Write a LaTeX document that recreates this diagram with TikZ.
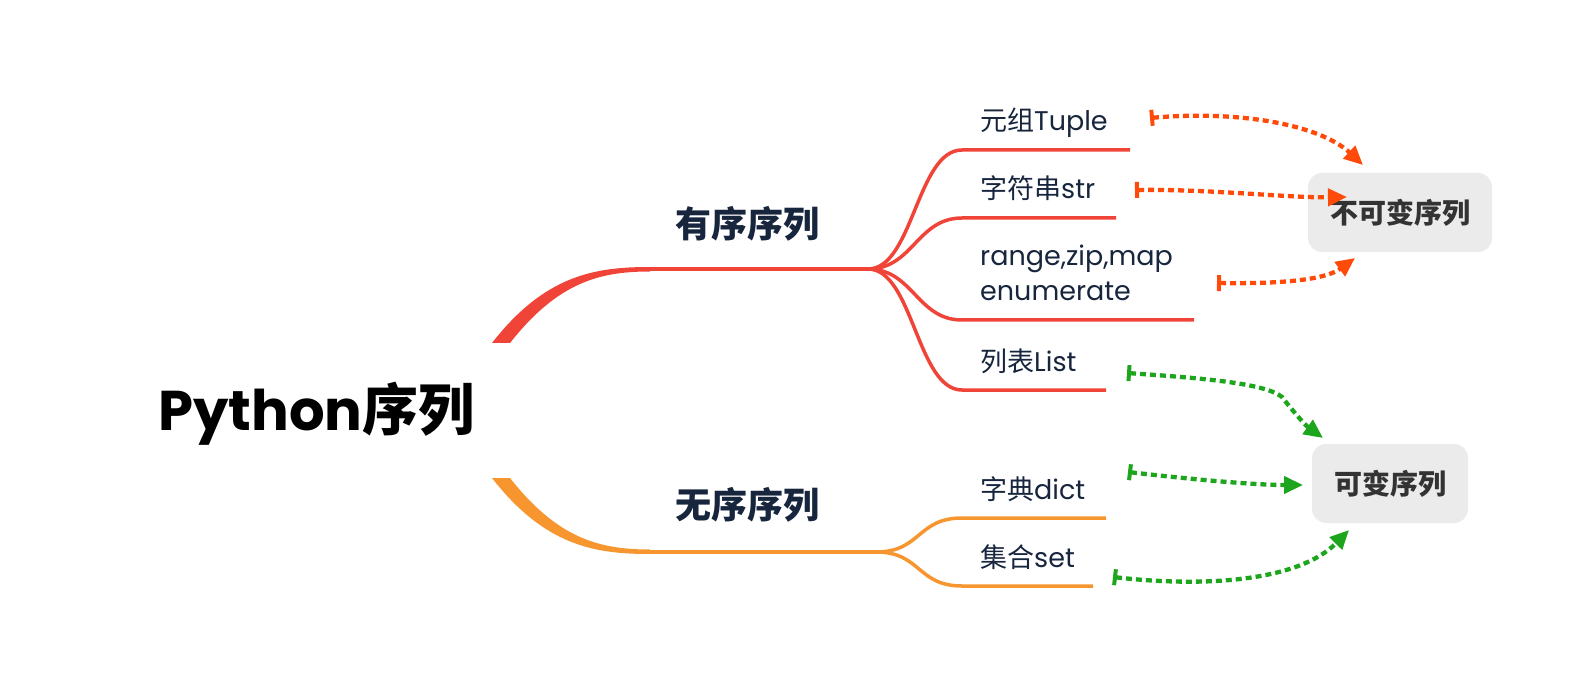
\documentclass[tikz,border=0pt]{standalone}
\usepackage{fontspec}
\setmainfont{Poppins}
\newfontfamily\cjk{Noto Sans CJK SC}
\usetikzlibrary{arrows.meta}
\definecolor{redb}{HTML}{F04438}
\definecolor{orab}{HTML}{F7952F}
\definecolor{navy}{HTML}{17253D}
\definecolor{arrred}{HTML}{FF4A0A}
\definecolor{arrgreen}{HTML}{1DA61D}
\definecolor{boxfill}{HTML}{EBEBEB}
\definecolor{boxtext}{HTML}{333333}
\tikzset{
  leaf/.style={anchor=base west, inner sep=0pt, text=navy, font=\fontsize{27}{31}\selectfont},
  midlabel/.style={inner sep=0pt, text=navy, font=\fontsize{36}{40}\selectfont\bfseries\cjk},
  seqbox/.style={fill=boxfill, rounded corners=14pt, minimum height=79pt, inner sep=0pt,
    text=boxtext, font=\fontsize{28}{32}\selectfont\bfseries\cjk},
  redsub/.style={draw=redb, line width=3.5pt},
  orasub/.style={draw=orab, line width=3.5pt},
  link/.style={line width=4.3pt, dash pattern=on 6pt off 4pt,
    {Bar[width=16pt,line width=4pt]}-{Triangle[length=19pt,width=17pt]}},
  redlink/.style={link, draw=arrred, arrred},
  greenlink/.style={link, draw=arrgreen, arrgreen}
}
\begin{document}
\begin{tikzpicture}[x=1pt,y=-1pt]
\useasboundingbox (0,0) rectangle (1592,700);

% root and level-1 nodes
\node[anchor=base west, inner sep=0pt, text=black, font=\fontsize{56}{60}\selectfont\bfseries]
  (root) at (158,430) {Python{\cjk 序列}};
\node[midlabel] (ordered) at (747,224) {有序序列};
\node[midlabel] (unordered) at (747,505) {无序序列};

% leaves
\node[leaf] (tuple) at (980,131) {{\cjk 元组}Tuple};
\node[leaf] (str) at (980,199) {{\cjk 字符串}str};
\node[leaf] (range) at (980,266) {range,zip,map};
\node[leaf] (enum) at (980,301) {enumerate};
\node[leaf] (list) at (980,371) {{\cjk 列表}List};
\node[leaf] (dict) at (980,499) {{\cjk 字典}dict};
\node[leaf] (set) at (980,567) {{\cjk 集合}set};

% boxes
\node[seqbox, minimum width=184pt] (immut) at (1400,212.5) {不可变序列};
\node[seqbox, minimum width=156pt] (mut) at (1390,483.5) {可变序列};

% main tapered branches
\fill[redb] (492,343) .. controls (545,275) and (595,267) .. (650,267)
  -- (650,271.5) .. controls (600,271.5) and (558,282) .. (510,343) -- cycle;
\fill[orab] (492,478) .. controls (545,546) and (595,554) .. (650,554)
  -- (650,549.5) .. controls (600,549.5) and (558,539) .. (510,478) -- cycle;

\coordinate (rfan) at (868,269);
\coordinate (ofan) at (876,552);
\draw[redb, line width=4.5pt] (648,269) -- (rfan);
\draw[orab, line width=4.5pt] (648,552) -- (ofan);

% sub branches
\draw[redsub] (rfan) .. controls +(45,0) and +(-45,0) .. (962,150) -- (1130,150);
\draw[redsub] (rfan) .. controls +(45,0) and +(-45,0) .. (962,218) -- (1116,218);
\draw[redsub] (rfan) .. controls +(45,0) and +(-45,0) .. (962,320) -- (1194,320);
\draw[redsub] (rfan) .. controls +(45,0) and +(-45,0) .. (962,390) -- (1106,390);
\draw[orasub] (ofan) .. controls +(45,0) and +(-45,0) .. (962,518) -- (1106,518);
\draw[orasub] (ofan) .. controls +(45,0) and +(-45,0) .. (962,586) -- (1093,586);

% relation arrows
\coordinate (s1) at (1150,118); \coordinate (e1) at (1363,165);
\coordinate (s2) at (1135,190); \coordinate (e2) at (1347,197);
\coordinate (s3) at (1217,283); \coordinate (e3) at (1355,258);
\coordinate (s4) at (1127,373); \coordinate (e4) at (1323,438);
\coordinate (s5) at (1128,472); \coordinate (e5) at (1303,485);
\coordinate (s6) at (1113,577); \coordinate (e6) at (1349,530);

\draw[redlink] (s1) .. controls (1240,110) and (1320,125) .. (e1);
\draw[redlink] (s2) .. controls (1210,189) and (1290,198) .. (e2);
\draw[redlink] (s3) .. controls (1280,284) and (1325,280) .. (e3);
\draw[greenlink] (s4) .. controls (1200,378) and (1265,383) .. (1282,397)
  .. controls (1292,410) and (1305,425) .. (e4);
\draw[greenlink] (s5) .. controls (1180,478) and (1250,485) .. (e5);
\draw[greenlink] (s6) .. controls (1210,588) and (1300,580) .. (e6);
\end{tikzpicture}
\end{document}
